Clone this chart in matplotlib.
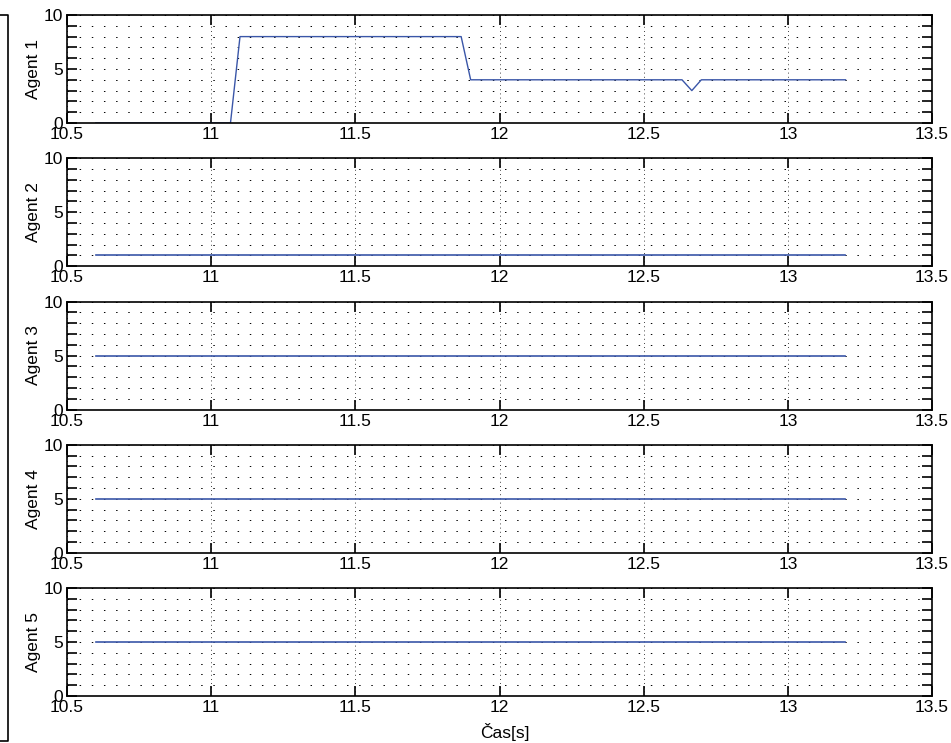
import matplotlib
matplotlib.use('Agg')
import matplotlib.pyplot as plt
import matplotlib.ticker as ticker
from matplotlib.lines import Line2D

plt.rcParams['font.family'] = ['Liberation Sans', 'DejaVu Sans']

# Agent 1 - casove body a hodnoty
t1 = [10.6, 11.067, 11.1, 11.867, 11.9, 12.633, 12.667, 12.7, 13.2]
v1 = [0, 0, 8, 8, 4, 4, 3, 4, 4]

# Agenti 2-5 - konstantne hodnoty
t_const = [10.6, 13.2]
agents = ['Agent 1', 'Agent 2', 'Agent 3', 'Agent 4', 'Agent 5']
const_vals = [None, 1, 5, 5, 5]

xticks = [10.5, 11, 11.5, 12, 12.5, 13, 13.5]
xticklabels = ['10.5', '11', '11.5', '12', '12.5', '13', '13.5']
yticks = [0, 5, 10]

W, H = 951, 743
fig = plt.figure(figsize=(W / 100, H / 100), dpi=100)

left = 67 / W
width = 865 / W
ax_h = 108
line_color = '#3a56a8'

for i, name in enumerate(agents):
    top = 15 + 143.25 * i
    ax = fig.add_axes([left, 1 - (top + ax_h) / H, width, ax_h / H])
    if i == 0:
        ax.plot(t1, v1, color=line_color, lw=1)
    else:
        ax.plot(t_const, [const_vals[i]] * 2, color=line_color, lw=1.2)

    ax.set_xlim(10.5, 13.5)
    ax.set_ylim(0, 10)
    ax.set_xticks(xticks)
    ax.set_xticklabels(xticklabels)
    ax.set_yticks(yticks)
    ax.yaxis.set_minor_locator(ticker.MultipleLocator(1))

    # mriezka ako v MATLABe
    ax.grid(True, which='major', axis='x', linestyle=(0, (1, 4)), color='k', lw=0.6)
    ax.grid(True, which='both', axis='y', linestyle=(0, (1.5, 11)), color='k', lw=0.7)

    ax.tick_params(which='both', direction='in', top=True, right=True,
                   length=7, width=1.2, labelsize=12.5, pad=3)
    for s in ax.spines.values():
        s.set_linewidth(1.2)
    ax.set_ylabel(name, fontsize=12.5, labelpad=2)

fig.text(505 / W, 1 - 732 / H, 'Čas[s]', ha='center', va='center', fontsize=12.5)

# nadpis, orezany hornym okrajom
fig.text(520 / W, 1 + 4 / H, 'Stratégia agentov', ha='center', va='baseline', fontsize=12.5)

# lavy okraj ramu
fig.add_artist(Line2D([0, 8 / W, 8 / W, 0],
                      [1 - 15 / H, 1 - 15 / H, 1 - 741 / H, 1 - 741 / H],
                      transform=fig.transFigure, color='k', lw=1.2))

fig.savefig('out.png', dpi=100)
